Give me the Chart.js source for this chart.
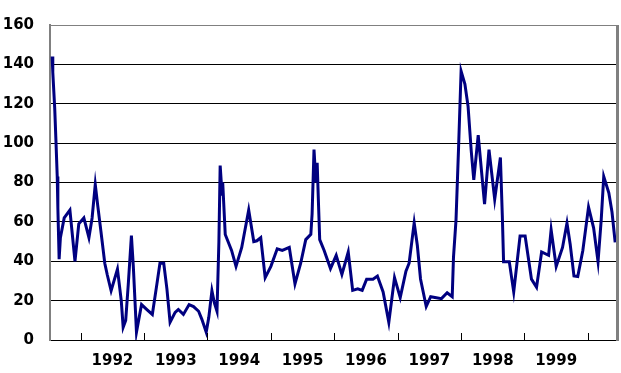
<!DOCTYPE html>
<html>
<head>
<meta charset="utf-8">
<script src="https://cdn.jsdelivr.net/npm/chart.js@4"></script>
<style>
  html, body { margin: 0; padding: 0; background: #fff; }
  #wrap { width: 621px; height: 373px; }
</style>
</head>
<body>
<div id="wrap"><canvas id="chart" width="621" height="373"></canvas></div>
<script>
// ====== DATA ======
const years = [
  1991.55, 1991.56, 1991.59, 1991.61, 1991.63, 1991.64, 1991.66, 1991.68, 1991.74, 1991.83,
  1991.91, 1991.97, 1992.05, 1992.13, 1992.18, 1992.23, 1992.27, 1992.32, 1992.38, 1992.42,
  1992.48, 1992.58, 1992.64, 1992.67, 1992.71, 1992.75, 1992.80, 1992.83, 1992.88, 1992.96,
  1993.04, 1993.13, 1993.20, 1993.25, 1993.31, 1993.36, 1993.41, 1993.49, 1993.54, 1993.62,
  1993.71, 1993.78, 1993.86, 1993.91, 1993.98, 1994.02, 1994.07, 1994.11, 1994.15, 1994.18,
  1994.20, 1994.23, 1994.24, 1994.28, 1994.38, 1994.45, 1994.54, 1994.65, 1994.73, 1994.78,
  1994.84, 1994.91, 1995.00, 1995.10, 1995.18, 1995.29, 1995.38, 1995.47, 1995.55, 1995.63,
  1995.65, 1995.68, 1995.71, 1995.73, 1995.75, 1995.77, 1995.84, 1995.94, 1996.03, 1996.12,
  1996.22, 1996.29, 1996.37, 1996.44, 1996.51, 1996.61, 1996.68, 1996.77, 1996.86, 1996.95,
  1997.04, 1997.13, 1997.18, 1997.26, 1997.31, 1997.36, 1997.45, 1997.52, 1997.61, 1997.69,
  1997.78, 1997.86, 1997.88, 1997.92, 1997.96, 1998.00, 1998.06, 1998.11, 1998.16, 1998.20,
  1998.27, 1998.37, 1998.44, 1998.53, 1998.62, 1998.65, 1998.67, 1998.76, 1998.83, 1998.93,
  1999.01, 1999.11, 1999.19, 1999.27, 1999.38, 1999.42, 1999.50, 1999.60, 1999.67, 1999.72,
  1999.78, 1999.84, 1999.92, 2000.01, 2000.09, 2000.16, 2000.21, 2000.25, 2000.33, 2000.38,
  2000.43
];
const values = [
  144, 136, 118, 101, 83, 67, 41, 52, 62, 66,
  40, 59, 62, 52, 62, 79, 68, 55, 39, 33,
  25, 36, 20, 6.5, 10, 28, 53, 37.5, 4, 18,
  15.6, 13, 28, 39, 39, 26, 9, 14, 15.5, 13,
  18, 17, 14.6, 10.6, 4, 11.4, 25, 18.7, 14.6, 50,
  88.6, 74, 80, 53.6, 45.5, 37.4, 47, 66, 50, 50.4,
  52, 31.7, 37.4, 46.3, 45.5, 47, 28.5, 39, 51, 53.7,
  64, 96.7, 80, 90, 70, 51, 45.5, 36.3, 43, 33.3,
  44.7, 25.2, 26, 25.2, 30.9, 30.9, 32.5, 24.4, 9, 31.7,
  21.5, 35, 39, 59.5, 48, 31, 17, 22, 21.5, 21,
  24, 22, 42, 61, 97.6, 136.6, 130, 118.7, 96, 81.3,
  104, 69, 96.7, 71.5, 92.7, 63.4, 39.8, 39.8, 24.4, 52.8,
  52.8, 30.9, 26.8, 44.7, 43, 56, 37.4, 47, 59.4, 48.8,
  32.5, 32.2, 45.5, 67.5, 57, 39.8, 61, 83, 74.8, 65,
  49.6
];

// year boundaries (tick marks) and year labels (centred in each year)
const yearTicks  = [1992, 1993, 1994, 1995, 1996, 1997, 1998, 1999, 2000];
const yearLabels = ['1992', '1993', '1994', '1995', '1996', '1997', '1998', '1999'];

const X_MIN = 1991.516;
const X_MAX = 2000.459;

// ====== PLUGIN: inward tick marks + right frame ======
const frame = {
  id: 'frame',
  afterDraw(chart) {
    const { ctx, chartArea, scales } = chart;
    ctx.save();
    ctx.strokeStyle = '#000';
    ctx.lineWidth = 1;
    yearTicks.forEach(y => {
      const px = Math.round(scales.x.getPixelForValue(y)) + 0.5;
      ctx.beginPath();
      ctx.moveTo(px, chartArea.bottom);
      ctx.lineTo(px, chartArea.bottom - 7);
      ctx.stroke();
    });
    ctx.strokeStyle = '#808080';
    ctx.lineWidth = 3;
    ctx.beginPath();
    ctx.moveTo(chartArea.right + 0.5, chartArea.top);
    ctx.lineTo(chartArea.right + 0.5, chartArea.bottom + 1);
    ctx.stroke();
    ctx.restore();
  }
};

const tickFont = { family: 'DejaVu Sans', size: 15, weight: 'bold' };

new Chart(document.getElementById('chart').getContext('2d'), {
  type: 'line',
  data: {
    datasets: [{
      data: years.map((y, i) => ({ x: y, y: values[i] })),
      borderColor: '#000080',
      borderWidth: 3,
      pointRadius: 0,
      tension: 0,
      fill: false
    }]
  },
  options: {
    responsive: false,
    animation: false,
    layout: { padding: { top: 12, right: 4, left: 0, bottom: 0 } },
    plugins: { legend: { display: false }, tooltip: { enabled: false } },
    scales: {
      x: {
        type: 'linear',
        min: X_MIN,
        max: X_MAX,
        afterBuildTicks(scale) {
          scale.ticks = yearLabels.map(l => ({ value: Number(l) + 0.5 }));
        },
        afterFit(scale) { scale.height = 33; },
        grid: { display: false, drawTicks: false },
        border: { display: true, color: '#000', width: 1 },
        ticks: {
          font: tickFont,
          color: '#000',
          padding: 12,
          maxRotation: 0,
          autoSkip: false,
          callback: v => String(Math.floor(v))
        }
      },
      y: {
        min: 0,
        max: 160,
        afterFit(scale) { scale.width = 50; },
        grid: {
          drawTicks: false,
          color: ctx => (ctx.tick && ctx.tick.value === 160) ? '#808080' : '#000',
          lineWidth: 1
        },
        border: { display: true, color: '#808080', width: 2 },
        ticks: {
          stepSize: 20,
          font: tickFont,
          color: '#000',
          padding: 16
        }
      }
    }
  },
  plugins: [frame]
});
</script>
</body>
</html>
